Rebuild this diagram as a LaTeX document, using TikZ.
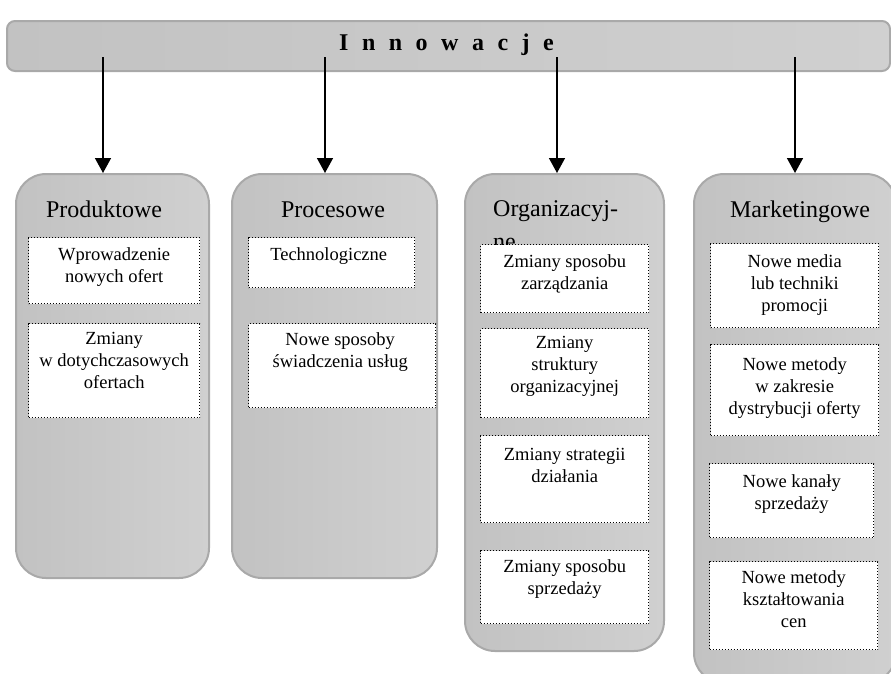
\documentclass[tikz,border=0pt]{standalone}
\usepackage{fontspec}
\setmainfont{Liberation Serif}
\usetikzlibrary{arrows.meta}
\definecolor{boxedge}{HTML}{A9A9A9}
\definecolor{shadeA}{HTML}{C2C2C2}
\definecolor{shadeB}{HTML}{D0D0D0}
\tikzset{
  container/.style={rectangle, rounded corners=30pt, draw=boxedge, line width=2pt,
    left color=shadeA, right color=shadeB, anchor=north west, inner sep=0pt},
  ibox/.style={rectangle, draw=black, fill=white, line width=1.4pt,
    dash pattern=on 1.2pt off 1.8pt, anchor=north west, inner sep=0pt},
  itext/.style={anchor=north, inner sep=0pt, align=center,
    font=\fontsize{18.5}{22}\selectfont},
  ttext/.style={inner sep=0pt, font=\fontsize{24}{33}\selectfont},
  conn/.style={line width=1.5pt, -{Triangle[length=15pt,width=16pt]}}
}
\newcommand{\ks}{\kern13.5pt}
\begin{document}
\begin{tikzpicture}[x=1pt,y=-1pt]
\useasboundingbox (0,0) rectangle (891,673);
\clip (0,0) rectangle (891,673);
% top bar
\node[rectangle, rounded corners=8pt, draw=boxedge, line width=2pt,
  left color=shadeA, right color=shadeB, anchor=north west, inner sep=0pt,
  minimum width=883pt, minimum height=50pt] (bar) at (6,20) {};
\node[anchor=base west, inner sep=0pt, font=\fontsize{24}{28}\selectfont\bfseries] (title) at (339,50)
  {I\ks n\ks n\ks o\ks w\ks a\ks c\ks j\ks e};
% containers
\node[container, minimum width=193pt, minimum height=404pt] (c1) at (15,173) {};
\node[container, minimum width=205pt, minimum height=404pt] (c2) at (231,173) {};
\node[container, minimum width=199pt, minimum height=477pt] (c3) at (464,173) {};
\node[container, minimum width=202pt, minimum height=509pt] (c4) at (693,173) {};
% arrows
\coordinate (s1) at (103,57);
\coordinate (s2) at (325,57);
\coordinate (s3) at (557,57);
\coordinate (s4) at (795,57);
\draw[conn] (s1) -- (s1 |- c1.north);
\draw[conn] (s2) -- (s2 |- c2.north);
\draw[conn] (s3) -- (s3 |- c3.north);
\draw[conn] (s4) -- (s4 |- c4.north);
% titles
\node[ttext, anchor=base] (t1) at (104,217) {Produktowe};
\node[ttext, anchor=base] (t2) at (333,217) {Procesowe};
\node[ttext, anchor=north west, align=left] (t3) at (493,200) {Organizacyj-\\ne};
\node[ttext, anchor=base] (t4) at (800,217) {Marketingowe};
% Produktowe
\node[ibox, minimum width=171pt, minimum height=66pt] (p1) at (28,237) {};
\node[itext] (p1t) at ([yshift=-10pt]p1.north) {Wprowadzenie\\nowych ofert};
\node[ibox, minimum width=171pt, minimum height=94pt] (p2) at (28,323) {};
\node[itext] (p2t) at ([yshift=-9pt]p2.north) {Zmiany\\w dotychczasowych\\ofertach};
% Procesowe
\node[ibox, minimum width=166pt, minimum height=50pt] (r1) at (248,237) {};
\node[itext] (r1t) at ([xshift=-3pt,yshift=-10pt]r1.north) {Technologiczne};
\node[ibox, minimum width=187pt, minimum height=84pt] (r2) at (248,323) {};
\node[itext] (r2t) at ([xshift=-2pt,yshift=-9pt]r2.north) {Nowe sposoby\\świadczenia usług};
% Organizacyjne
\node[ibox, minimum width=168pt, minimum height=68pt] (o1) at (480,244) {};
\node[itext] (o1t) at ([yshift=-10pt]o1.north) {Zmiany sposobu\\zarządzania};
\node[ibox, minimum width=168pt, minimum height=89pt] (o2) at (480,328) {};
\node[itext] (o2t) at ([yshift=-8pt]o2.north) {Zmiany\\struktury\\organizacyjnej};
\node[ibox, minimum width=168pt, minimum height=87pt] (o3) at (480,435) {};
\node[itext] (o3t) at ([yshift=-13pt]o3.north) {Zmiany strategii\\działania};
\node[ibox, minimum width=168pt, minimum height=73pt] (o4) at (480,550) {};
\node[itext] (o4t) at ([yshift=-9pt]o4.north) {Zmiany sposobu\\sprzedaży};
% Marketingowe
\node[ibox, minimum width=168pt, minimum height=84pt] (m1) at (710,243) {};
\node[itext] (m1t) at ([yshift=-11pt]m1.north) {Nowe media\\lub techniki\\promocji};
\node[ibox, minimum width=168pt, minimum height=91pt] (m2) at (710,344) {};
\node[itext] (m2t) at ([yshift=-13pt]m2.north) {Nowe metody\\w zakresie\\dystrybucji oferty};
\node[ibox, minimum width=164pt, minimum height=74pt] (m3) at (709,463) {};
\node[itext] (m3t) at ([yshift=-11pt]m3.north) {Nowe kanały\\sprzedaży};
\node[ibox, minimum width=168pt, minimum height=88pt] (m4) at (709,561) {};
\node[itext] (m4t) at ([yshift=-9pt]m4.north) {Nowe metody\\kształtowania\\cen};
\end{tikzpicture}
\end{document}
